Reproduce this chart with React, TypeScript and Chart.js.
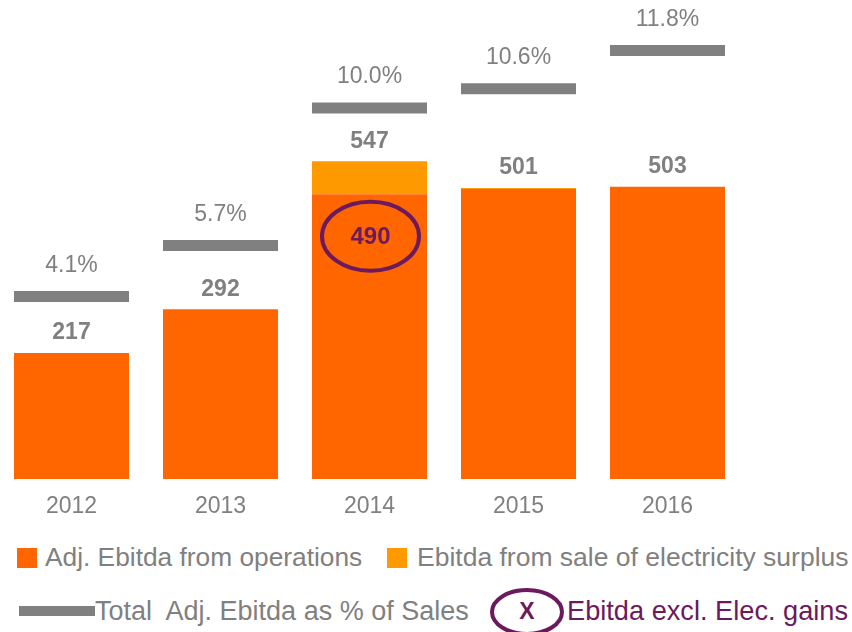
import React, { useEffect, useRef } from "react";
import { Chart, registerables } from "chart.js";

Chart.register(...registerables);

const categories = ["2012", "2013", "2014", "2015", "2016"];
const operations = [217, 292, 490, 499, 503];
const electricitySurplus = [0, 0, 57, 2, 0];
const pctOfSales = [4.1, 5.7, 10.0, 10.6, 11.8];
const exclElecIndex = 2;

const ORANGE = "#FF6600";
const LIGHT_ORANGE = "#FF9900";
const GRAY = "#808080";
const PURPLE = "#6B1A5E";
const FONT = "'Liberation Sans', Arial, sans-serif";

const labelsPlugin = {
  id: "customLabels",
  afterDatasetsDraw(chart: any) {
    const ctx = chart.ctx;
    const xs = chart.scales.x;
    const ys = chart.scales.y;
    const y1 = chart.scales.y1;
    ctx.save();
    ctx.textAlign = "center";
    ctx.textBaseline = "middle";
    categories.forEach((_, i) => {
      const x = xs.getPixelForValue(i);
      const total = operations[i] + electricitySurplus[i];
      ctx.fillStyle = GRAY;
      ctx.font = `bold 23px ${FONT}`;
      ctx.fillText(String(total), x, ys.getPixelForValue(total) - 20);
      ctx.font = `23px ${FONT}`;
      ctx.fillText(pctOfSales[i].toFixed(1) + "%", x, y1.getPixelForValue(pctOfSales[i]) - 31);
    });
    // highlight: Ebitda excl. electricity gains
    const i = exclElecIndex;
    const cx = xs.getPixelForValue(i) + 1;
    const cy = ys.getPixelForValue(operations[i]) + 42;
    ctx.beginPath();
    ctx.ellipse(cx, cy, 48.5, 34.5, 0, 0, Math.PI * 2);
    ctx.lineWidth = 4;
    ctx.strokeStyle = PURPLE;
    ctx.stroke();
    ctx.fillStyle = PURPLE;
    ctx.font = `bold 24px ${FONT}`;
    ctx.fillText(String(operations[i]), cx, cy + 1);
    ctx.restore();
  },
};

export default function App() {
  const ref = useRef<HTMLCanvasElement>(null);
  useEffect(() => {
    if (!ref.current) return;
    const chart = new Chart(ref.current, {
      type: "bar",
      data: {
        labels: categories,
        datasets: [
          {
            label: "Total  Adj. Ebitda as % of Sales",
            data: pctOfSales.map((v) => [v - 0.172, v + 0.172]) as any,
            backgroundColor: GRAY,
            yAxisID: "y1",
            order: 0,
          },
          {
            label: "Adj. Ebitda from operations",
            data: operations,
            backgroundColor: ORANGE,
            yAxisID: "y",
            order: 1,
          },
          {
            label: "Ebitda from sale of electricity surplus",
            data: electricitySurplus,
            backgroundColor: LIGHT_ORANGE,
            yAxisID: "y",
            order: 2,
          },
        ],
      },
      options: {
        responsive: false,
        animation: false,
        devicePixelRatio: 1,
        layout: { padding: { top: 20, left: 0, right: 107, bottom: 0 } },
        datasets: { bar: { categoryPercentage: 1, barPercentage: 0.772 } },
        plugins: { legend: { display: false }, tooltip: { enabled: false } },
        scales: {
          x: {
            stacked: true,
            grid: { display: false, drawTicks: false },
            border: { display: false },
            ticks: { color: GRAY, font: { family: FONT, size: 23 }, padding: 14 },
            afterFit: (axis: any) => {
              axis.height = 51;
            },
          },
          y: { stacked: true, display: false, min: 0, max: 790 },
          y1: { stacked: false, display: false, min: -1.605, max: 12.75 },
        },
      },
      plugins: [labelsPlugin],
    } as any);
    return () => chart.destroy();
  }, []);

  const text: React.CSSProperties = {
    position: "absolute",
    fontFamily: FONT,
    fontSize: 26.3,
    color: GRAY,
    whiteSpace: "pre",
    lineHeight: "30px",
  };

  return (
    <div style={{ position: "fixed", left: 0, top: 0, width: 852, height: 632, overflow: "hidden", background: "#fff" }}>
      <canvas ref={ref} width={852} height={530} style={{ position: "absolute", left: -3, top: 0 }} />
      <div style={{ position: "absolute", left: 17, top: 548, width: 20, height: 20, background: ORANGE }} />
      <span style={{ ...text, left: 45, top: 542 }}>Adj. Ebitda from operations</span>
      <div style={{ position: "absolute", left: 387, top: 548, width: 20, height: 20, background: LIGHT_ORANGE }} />
      <span style={{ ...text, left: 417, top: 542, fontSize: 26.5 }}>Ebitda from sale of electricity surplus</span>
      <div style={{ position: "absolute", left: 19, top: 606, width: 76, height: 10, background: GRAY }} />
      <span style={{ ...text, left: 95, top: 596, fontSize: 27 }}>{"Total  Adj. Ebitda as % of Sales"}</span>
      <svg style={{ position: "absolute", left: 488, top: 587 }} width={80} height={50}>
        <ellipse cx={39} cy={25} rx={35} ry={22} fill="none" stroke={PURPLE} strokeWidth={4} />
        <text x={39} y={26} textAnchor="middle" dominantBaseline="middle" fill={PURPLE} fontFamily={FONT} fontWeight="bold" fontSize={23}>X</text>
      </svg>
      <span style={{ ...text, left: 567, top: 596, color: PURPLE, fontSize: 27.2 }}>Ebitda excl. Elec. gains</span>
    </div>
  );
}
